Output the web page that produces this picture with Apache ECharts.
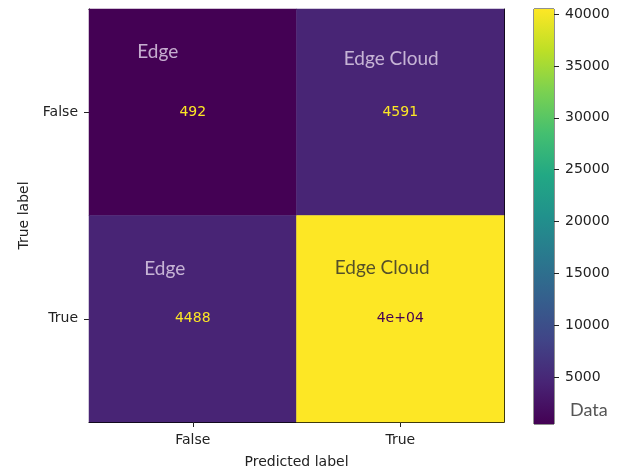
<!DOCTYPE html>
<html>
<head>
<meta charset="utf-8">
<script src="https://cdn.jsdelivr.net/npm/echarts@6/dist/echarts.min.js"></script>
<style>
  html, body { margin: 0; padding: 0; background: #fff; }
  #cm { width: 626px; height: 474px; }
</style>
</head>
<body>
<div id="cm"></div>
<script>
// confusion matrix data
var predLabels = ['False', 'True'];
var trueLabels = ['False', 'True'];
// [predIdx, trueIdx, count]
var counts = [
    [0, 0, 492],
    [1, 0, 4591],
    [0, 1, 4488],
    [1, 1, 40480]
];
var cellText = ['492', '4591', '4488', '4e+04'];
var cellNotes = ['Edge', 'Edge Cloud', 'Edge', 'Edge Cloud'];
var cbTicks = [5000, 10000, 15000, 20000, 25000, 30000, 35000, 40000];

var vmin = 492, vmax = 40480;
var viridis = ['#440154', '#482475', '#414487', '#355f8d', '#2a788e', '#21918c',
               '#22a884', '#44bf70', '#7ad151', '#bddf26', '#fde725'];

// where the hand-written notes sit relative to each cell centre
var noteOffsets = [[-35, -60], [-9, -53], [-28, -50], [-18, -51]];
var noteColors = ['#e6d8ee', '#e6d8ee', '#e6d8ee', '#2a2a2a'];

var tickFont = { fontFamily: 'DejaVu Sans', fontSize: 14, color: '#222' };

var gradStops = viridis.map(function (c, i) {
    return { offset: i / (viridis.length - 1), color: c };
});

var cmOption = {
    animation: false,
    backgroundColor: '#fff',
    grid: [
        { left: 89, top: 9, width: 415, height: 415 },
        { left: 534, top: 9, width: 20, height: 415, show: true, borderColor: '#222', borderWidth: 1 }
    ],
    visualMap: {
        show: false,
        seriesIndex: 0,
        dimension: 2,
        min: vmin,
        max: vmax,
        inRange: { color: viridis }
    },
    xAxis: [
        {
            type: 'category', gridIndex: 0, data: predLabels, position: 'bottom',
            name: 'Predicted label', nameLocation: 'middle', nameGap: 33,
            nameTextStyle: tickFont,
            axisLine: { show: true, lineStyle: { color: '#000', width: 1 } },
            axisTick: { show: true, alignWithLabel: true, length: 5, lineStyle: { color: '#222' } },
            axisLabel: Object.assign({ margin: 11 }, tickFont),
            splitLine: { show: false }
        },
        {
            type: 'category', gridIndex: 0, data: predLabels, position: 'top',
            axisLine: { show: true, lineStyle: { color: '#000', width: 1 } },
            axisTick: { show: false }, axisLabel: { show: false }
        },
        {
            type: 'category', gridIndex: 1, data: ['c'],
            axisLine: { show: false }, axisTick: { show: false }, axisLabel: { show: false }
        }
    ],
    yAxis: [
        {
            type: 'category', gridIndex: 0, data: trueLabels, inverse: true, position: 'left',
            name: 'True label', nameLocation: 'middle', nameGap: 58, nameRotate: 90,
            nameTextStyle: tickFont,
            axisLine: { show: true, lineStyle: { color: '#000', width: 1 } },
            axisTick: { show: true, alignWithLabel: true, length: 5, lineStyle: { color: '#222' } },
            axisLabel: Object.assign({ margin: 11 }, tickFont),
            splitLine: { show: false }
        },
        {
            type: 'category', gridIndex: 0, data: trueLabels, inverse: true, position: 'right',
            axisLine: { show: true, lineStyle: { color: '#000', width: 1 } },
            axisTick: { show: false }, axisLabel: { show: false }
        },
        {
            type: 'value', gridIndex: 1, position: 'right', min: vmin, max: vmax,
            axisLine: { show: false },
            splitLine: { show: false },
            axisTick: { show: true, length: 5, lineStyle: { color: '#222' }, customValues: cbTicks },
            axisLabel: Object.assign({
                margin: 11,
                customValues: cbTicks,
                formatter: function (v) { return String(v); }
            }, tickFont)
        }
    ],
    graphic: [
        {
            type: 'text', left: 570, top: 401,
            style: { text: 'Data', fontFamily: 'Lato', fontSize: 18, fill: '#555' }
        }
    ],
    series: [
        {
            type: 'heatmap',
            xAxisIndex: 0, yAxisIndex: 0,
            data: counts.map(function (d, i) {
                // the 4e+04 label sits on yellow, so it is drawn dark
                return i === 3 ? { value: d, label: { color: '#440154' } } : d;
            }),
            label: {
                show: true,
                fontFamily: 'DejaVu Sans',
                fontSize: 14,
                formatter: function (p) { return cellText[p.dataIndex]; },
                color: '#fde725'
            },
            itemStyle: { borderWidth: 0 },
            emphasis: { disabled: true }
        },
        {
            type: 'scatter',
            xAxisIndex: 0, yAxisIndex: 0,
            symbolSize: 0,
            silent: true,
            z: 5,
            data: counts.map(function (d, i) {
                return {
                    value: [d[0], d[1]],
                    label: {
                        show: true,
                        position: 'inside',
                        offset: noteOffsets[i],
                        formatter: cellNotes[i],
                        fontFamily: 'Lato',
                        fontSize: 19,
                        color: noteColors[i]
                    }
                };
            })
        },
        // colour bar: transparent base up to vmin, gradient on top
        {
            type: 'bar', xAxisIndex: 2, yAxisIndex: 2, stack: 'cb',
            barWidth: '100%', silent: true,
            data: [vmin],
            itemStyle: { color: 'rgba(0,0,0,0)' }
        },
        {
            type: 'bar', xAxisIndex: 2, yAxisIndex: 2, stack: 'cb',
            barWidth: '100%', silent: true,
            data: [vmax - vmin],
            itemStyle: { color: new echarts.graphic.LinearGradient(0, 1, 0, 0, gradStops) }
        }
    ]
};

var cmChart = echarts.init(document.getElementById('cm'));
cmChart.setOption(cmOption);
</script>
</body>
</html>
